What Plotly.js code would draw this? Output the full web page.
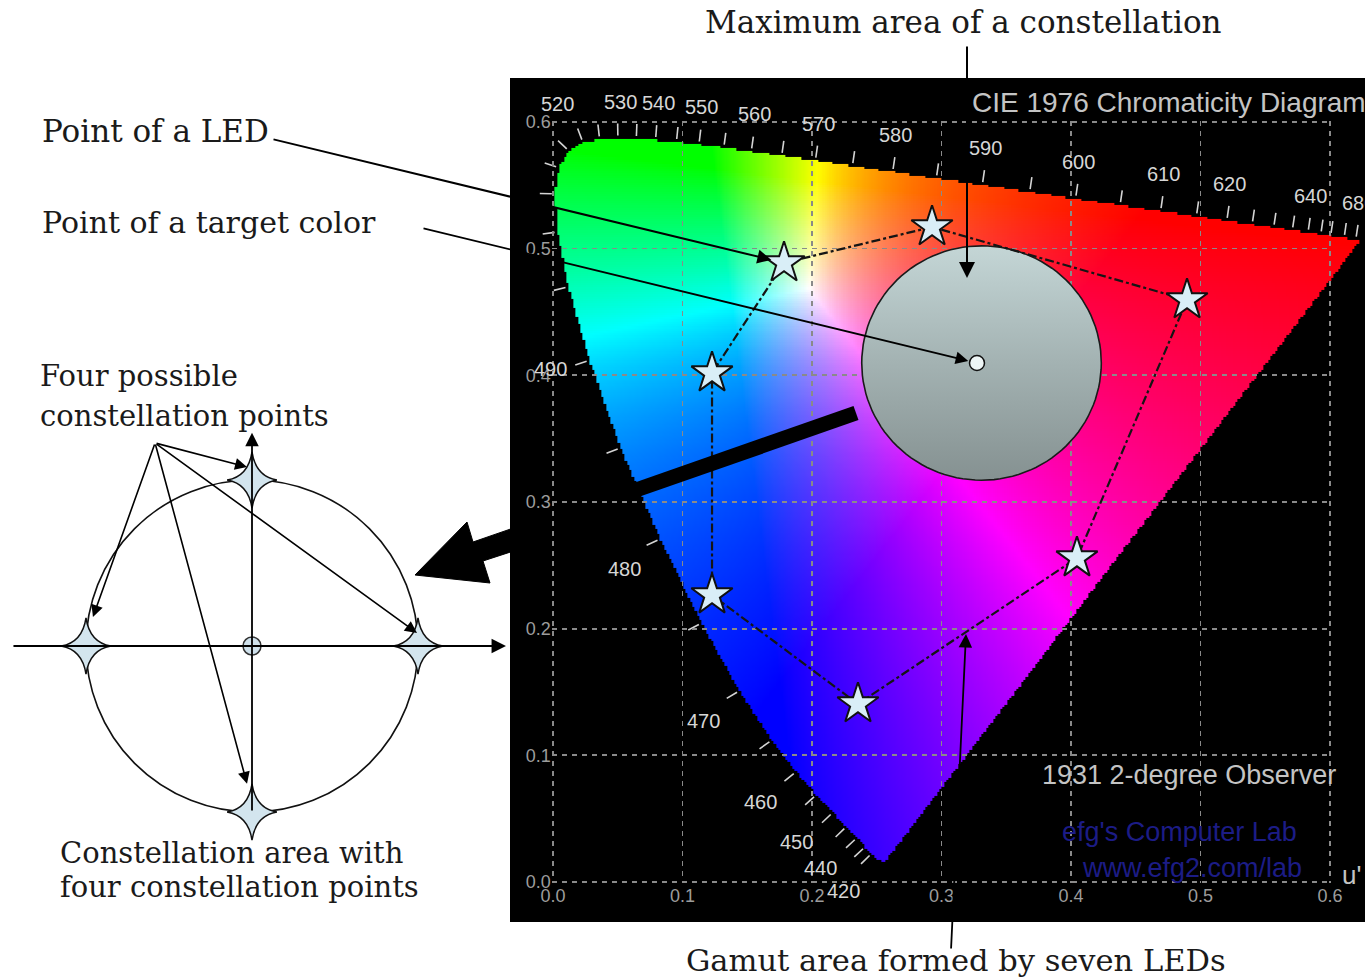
<!DOCTYPE html>
<html><head><meta charset="utf-8">
<script src="https://cdn.plot.ly/plotly-3.0.1.min.js"></script>
<style>html,body{margin:0;padding:0;background:#fff}#chart{width:1365px;height:980px}</style>
</head><body><div id="chart"></div>
<script>
// ---------- DATA ----------
// Spectral locus, CIE 1976 u'v' (2-degree observer)
const LOCUS_NM = [380,400,410,420,425,430,435,440,445,450,455,460,465,470,475,480,485,490,495,500,505,510,515,520,525,530,535,540,545,550,555,560,565,570,575,580,585,590,595,600,605,610,615,620,625,630,635,640,645,650,660,670,680,700];
const LOCUS_U = [0.2568,0.2557,0.2545,0.2522,0.2496,0.2461,0.2411,0.2347,0.2266,0.2161,0.2033,0.1877,0.1690,0.1441,0.1147,0.0828,0.0521,0.0282,0.0119,0.0035,0.0014,0.0046,0.0123,0.0231,0.0360,0.0501,0.0643,0.0792,0.0953,0.1127,0.1319,0.1531,0.1766,0.2026,0.2312,0.2623,0.2960,0.3315,0.3681,0.4035,0.4379,0.4692,0.4968,0.5203,0.5399,0.5565,0.5709,0.5830,0.5929,0.6005,0.6109,0.6162,0.6199,0.6234];
const LOCUS_V = [0.0166,0.0159,0.0159,0.0169,0.0191,0.0226,0.0279,0.0350,0.0437,0.0549,0.0688,0.0871,0.1119,0.1510,0.2044,0.2708,0.3427,0.4117,0.4698,0.5131,0.5432,0.5638,0.5770,0.5837,0.5861,0.5868,0.5865,0.5856,0.5841,0.5821,0.5796,0.5766,0.5732,0.5694,0.5651,0.5604,0.5554,0.5501,0.5446,0.5393,0.5342,0.5296,0.5254,0.5219,0.5190,0.5165,0.5143,0.5125,0.5111,0.5099,0.5084,0.5076,0.5070,0.5065];
const LABEL_NM = [420,440,450,460,470,480,490,520,530,540,550,560,570,580,590,600,610,620,640,680];
const TICK_NM = [430,435,440,445,450,455,460,465,470,475,480,485,490,495,500,505,510,515,520,525,530,535,540,545,550,555,560,565,570,575,580,585,590,595,600,605,610,615,620,625,630,635,640,645,650,660,680];
const AXIS_TICKS = [0,0.1,0.2,0.3,0.4,0.5,0.6];
const AXIS_TICK_TEXT = ['0.0','0.1','0.2','0.3','0.4','0.5','0.6'];
// Seven LEDs and the target colour (u', v')
const LED_U = [0.1784,0.2927,0.4896,0.4046,0.2355,0.1228,0.1228];
const LED_V = [0.4886,0.5170,0.4594,0.2557,0.1405,0.2265,0.4017];
const TARGET_U = [0.3274];
const TARGET_V = [0.4096];
const CONSTELLATION_CENTER = [0.3309, 0.4096];
const CONSTELLATION_RADIUS = 0.0925;
// Schematic constellation (unit circle)
const CP_X = [-1, 0, 1, 0];
const CP_Y = [0, 1, 0, -1];

// ---------- GEOMETRY HELPERS ----------
const W = 1365, H = 980;
const SX = 1295, SY = 1267, OX = 553, OY = 882;
const pxU = u => OX + u*SX, pxV = v => OY - v*SY;
const uPx = x => (x-OX)/SX, vPx = y => (OY-y)/SY;
const fx = x => x/W, fy = y => 1 - y/H;
const LS = 166, LCX = 252, LCY = 646;

// ---------- COLOUR FILL OF THE LOCUS ----------
const poly = LOCUS_U.map((u,i)=>[u, LOCUS_V[i]]);
function inside(u,v){
  let c=false;
  for(let i=0,j=poly.length-1;i<poly.length;j=i++){
    const [xi,yi]=poly[i],[xj,yj]=poly[j];
    if(((yi>v)!==(yj>v)) && (u < (xj-xi)*(v-yi)/(yj-yi)+xi)) c=!c;
  }
  return c;
}
function gam(c){ return Math.pow(c, 0.8); }
function uvRGB(u,v){
  const d = 6*u - 16*v + 12;
  const x = 9*u/d, y = 4*v/d;
  const X = x/y, Y = 1, Z = (1-x-y)/y;
  let r = 3.2406*X - 1.5372*Y - 0.4986*Z;
  let g = -0.9689*X + 1.8758*Y + 0.0415*Z;
  let b = 0.0557*X - 0.2040*Y + 1.0570*Z;
  r=Math.max(r,0); g=Math.max(g,0); b=Math.max(b,0);
  const m = Math.max(r,g,b) || 1;
  return [Math.round(255*gam(r/m)), Math.round(255*gam(g/m)), Math.round(255*gam(b/m))];
}
const STEP = 0.0018, IU0 = -0.005, IV0 = -0.005;
const NXI = Math.ceil((0.63-IU0)/STEP), NYI = Math.ceil((0.6-IV0)/STEP);
const img = [];
for(let j=0;j<NYI;j++){
  const v = IV0 + j*STEP, row=[];
  for(let i=0;i<NXI;i++){
    const u = IU0 + i*STEP;
    if(inside(u,v)){ const c=uvRGB(u,v); row.push([c[0],c[1],c[2],1]); }
    else row.push([0,0,0,0]);
  }
  img.push(row);
}

// locus tick marks
const tickX=[], tickY=[];
TICK_NM.forEach(nm=>{
  const i = LOCUS_NM.indexOf(nm);
  const tx=(LOCUS_U[i+1]-LOCUS_U[i-1])*SX, ty=(LOCUS_V[i+1]-LOCUS_V[i-1])*SY;
  const L=Math.hypot(tx,ty), nxo=-ty/L, nyo=tx/L;
  tickX.push(LOCUS_U[i]+nxo*3/SX, LOCUS_U[i]+nxo*15/SX, null);
  tickY.push(LOCUS_V[i]+nyo*3/SY, LOCUS_V[i]+nyo*15/SY, null);
});

// constellation circle outline
const circU=[], circV=[];
for(let k=0;k<=120;k++){
  const a = 2*Math.PI*k/120;
  circU.push(CONSTELLATION_CENTER[0]+CONSTELLATION_RADIUS*Math.cos(a));
  circV.push(CONSTELLATION_CENTER[1]+CONSTELLATION_RADIUS*Math.sin(a));
}

const traces = [
  {type:'image', z:img, x0:IU0, dx:STEP, y0:IV0, dy:STEP, colormodel:'rgba', zsmooth:'fast', xaxis:'x', yaxis:'y', hoverinfo:'skip'},
  {type:'scatter', mode:'lines', x:tickX, y:tickY, xaxis:'x', yaxis:'y', line:{color:'#d4d4d4', width:1.6}, hoverinfo:'skip'},
  // constellation circle
  {type:'scatter', mode:'lines', x:circU, y:circV, xaxis:'x2', yaxis:'y2', fill:'toself',
   fillgradient:{type:'vertical', start:CONSTELLATION_CENTER[1]-CONSTELLATION_RADIUS, stop:CONSTELLATION_CENTER[1]+CONSTELLATION_RADIUS,
     colorscale:[[0,'#859191'],[0.5,'#a3b2b2'],[1,'#c4d6d6']]},
   line:{color:'#1a1a1a', width:1.6}, hoverinfo:'skip'},
  // gamut polygon
  {type:'scatter', mode:'lines', x:LED_U.concat([LED_U[0]]), y:LED_V.concat([LED_V[0]]), xaxis:'x2', yaxis:'y2',
   line:{color:'#151515', width:2.2, dash:'dashdot'}, hoverinfo:'skip'},
  // LEDs
  {type:'scatter', mode:'markers', x:LED_U, y:LED_V, xaxis:'x2', yaxis:'y2',
   marker:{symbol:'star', size:31, color:'#d9eef7', line:{color:'#111', width:2}}, hoverinfo:'skip'},
  // target
  {type:'scatter', mode:'markers', x:TARGET_U, y:TARGET_V, xaxis:'x2', yaxis:'y2',
   marker:{symbol:'circle', size:15, color:'#eef6f6', line:{color:'#111', width:1.5}}, hoverinfo:'skip'},
  // schematic centre point
  {type:'scatter', mode:'markers', x:[0], y:[0], xaxis:'x3', yaxis:'y3',
   marker:{symbol:'circle', size:18, color:'#cfe1ec', line:{color:'#333', width:1.5}}, hoverinfo:'skip'}
];

// ---------- ANNOTATIONS ----------
const ann = [];
const serif = s => ({family:'DejaVu Serif', size:s, color:'#1a1a1a'});
function txt(text,x,y,opt){ ann.push(Object.assign({xref:'paper',yref:'paper',x:fx(x),y:fy(y),text:text,showarrow:false,xanchor:'left',yanchor:'middle',font:serif(29)},opt||{})); }
txt('Maximum area of a constellation',703,22,{font:serif(31)});
txt('Point of a LED',40,131,{font:serif(31)});
txt('Point of a target color',40,222,{font:serif(30)});
txt('Four possible',38,376);
txt('constellation points',38,416);
txt('Constellation area with',58,853);
txt('four constellation points',58,887);
txt('Gamut area formed by seven LEDs',684,960,{font:serif(30.5)});

const sans = (s,c)=>({family:'Liberation Sans, Arial, sans-serif', size:s, color:c});
txt('CIE 1976 Chromaticity Diagram',970,102,{font:sans(28,'#c4c4c4')});
txt('1931 2-degree Observer',1040,775,{font:sans(27,'#c4c4c4')});
txt("efg's Computer Lab",1060,832,{font:sans(27,'#1c1c86')});
txt('www.efg2.com/lab',1080,868,{font:sans(27,'#1c1c86')});
txt("u'",1340,875,{font:sans(26,'#c4c4c4')});

// wavelength labels
function shiftFor(nm){
  if(nm>=530) return [3,37];
  if(nm===520) return [-25,38];
  if(nm>=490) return [-39,-9];
  return [-36,-30];
}
LABEL_NM.forEach(nm=>{
  const i=LOCUS_NM.indexOf(nm), s=shiftFor(nm);
  ann.push({xref:'x',yref:'y',x:LOCUS_U[i],y:LOCUS_V[i],text:String(nm),showarrow:false,
    xshift:s[0],yshift:s[1],font:sans(20,'#d6d6d6')});
});

// arrows
function arrowPx(tx,ty,sx,sy,o){
  ann.push(Object.assign({xref:'paper',yref:'paper',x:fx(tx),y:fy(ty),ax:sx-tx,ay:sy-ty,text:'',showarrow:true,
    arrowhead:2,arrowsize:1.5,arrowwidth:1.8,arrowcolor:'#000'},o||{}));
}
ann.push({xref:'x2',yref:'y2',x:LED_U[0],y:LED_V[0],ax:272-pxU(LED_U[0]),ay:139-pxV(LED_V[0]),text:'',showarrow:true,
  standoff:13,arrowhead:2,arrowsize:1.4,arrowwidth:2,arrowcolor:'#000'});
ann.push({xref:'x2',yref:'y2',x:TARGET_U[0],y:TARGET_V[0],ax:422-pxU(TARGET_U[0]),ay:228-pxV(TARGET_V[0]),text:'',showarrow:true,
  standoff:9,arrowhead:2,arrowsize:1.4,arrowwidth:1.8,arrowcolor:'#000'});
arrowPx(967,278,967,45,{arrowsize:1.6,arrowwidth:2});
arrowPx(966,634,951,950,{arrowsize:1.5,arrowwidth:1.8});

// schematic diagram arrows (unit-circle coords)
function arrowL(tx,ty,sx,sy,o){
  ann.push(Object.assign({xref:'x3',yref:'y3',axref:'x3',ayref:'y3',x:tx,y:ty,ax:sx,ay:sy,text:'',showarrow:true,
    arrowhead:2,arrowsize:1.5,arrowwidth:1.6,arrowcolor:'#000'},o||{}));
}
arrowL(1.53,0,-1.446,0,{arrowsize:1.6,arrowwidth:1.8});
arrowL(0,1.285,0,-1.0,{arrowsize:1.5,arrowwidth:1.8});
const ORIG=[-0.584,1.223];
arrowL(-0.03,1.078,ORIG[0],ORIG[1]);
arrowL(-0.958,0.175,ORIG[0],ORIG[1]);
arrowL(0.994,0.078,ORIG[0],ORIG[1]);
arrowL(-0.03,-0.83,ORIG[0],ORIG[1]);

// ---------- SHAPES ----------
function pathPx(pts){ return 'M'+pts.map(p=>fx(p[0])+','+fy(p[1])).join('L')+'Z'; }
// four-pointed sparkle at each constellation point (data coords of the schematic axes)
function sparkle(cx,cy){
  const ah=0.15, av=0.17, c=0.022;
  return 'M'+(cx+ah)+','+cy+' Q'+(cx+c)+','+(cy+c)+' '+cx+','+(cy+av)+' Q'+(cx-c)+','+(cy+c)+' '+(cx-ah)+','+cy+
         ' Q'+(cx-c)+','+(cy-c)+' '+cx+','+(cy-av)+' Q'+(cx+c)+','+(cy-c)+' '+(cx+ah)+','+cy+' Z';
}
const shapes = [
  {type:'rect',xref:'paper',yref:'paper',x0:fx(510),x1:1,y0:fy(922),y1:fy(78),fillcolor:'#000',line:{width:0},layer:'below'},
  {type:'circle',xref:'x3',yref:'y3',x0:-1,x1:1,y0:-1,y1:1,line:{color:'#111',width:1.6},layer:'below'},
  {type:'line',xref:'paper',yref:'paper',x0:fx(636),y0:fy(490),x1:fx(856),y1:fy(413),line:{color:'#000',width:15},layer:'above'},
  {type:'path',xref:'paper',yref:'paper',path:pathPx([[415,575],[467,522],[473,542],[525,524],[532,545],[483,561],[490,583]]),
   fillcolor:'#000',line:{color:'#000',width:1},layer:'above'}
];
CP_X.forEach((x,i)=>shapes.push({type:'path',xref:'x3',yref:'y3',path:sparkle(x,CP_Y[i]),fillcolor:'#d3e5ee',
  line:{color:'#111',width:1.5},layer:'above'}));

const axHidden = {visible:false, showgrid:false, zeroline:false, fixedrange:true};
const gridAx = (dom)=>({domain:dom, range:[-0.001,0.601], tickmode:'array', tickvals:AXIS_TICKS, ticktext:AXIS_TICK_TEXT,
  showgrid:true, gridcolor:'#8a8a8a', gridwidth:1.8, griddash:'5px,5px', zeroline:false, showline:false, ticks:'',
  tickfont:{family:'Liberation Sans, Arial, sans-serif', size:18, color:'#9c9c9c'}, fixedrange:true});

const layout = {
  width:W, height:H, margin:{l:0,r:0,t:0,b:0}, paper_bgcolor:'#ffffff', plot_bgcolor:'rgba(0,0,0,0)',
  showlegend:false, hovermode:false,
  xaxis:Object.assign({}, axHidden, {domain:[fx(510),1], range:[uPx(510),uPx(1365)], anchor:'y'}),
  yaxis:Object.assign({}, axHidden, {domain:[fy(922),fy(78)], range:[vPx(922),vPx(78)], anchor:'x', scaleanchor:false}),
  xaxis2:Object.assign(gridAx([fx(pxU(-0.001)),fx(pxU(0.601))]), {anchor:'y2'}),
  yaxis2:Object.assign(gridAx([fy(pxV(-0.001)),fy(pxV(0.601))]), {anchor:'x2'}),
  xaxis3:Object.assign({}, axHidden, {domain:[0,fx(504)], range:[-LCX/LS,(504-LCX)/LS], anchor:'y3'}),
  yaxis3:Object.assign({}, axHidden, {domain:[fy(895),fy(397)], range:[-(895-LCY)/LS,(LCY-397)/LS], anchor:'x3'}),
  shapes:shapes, annotations:ann
};
Plotly.newPlot('chart', traces, layout, {displayModeBar:false, staticPlot:true});
</script></body></html>
